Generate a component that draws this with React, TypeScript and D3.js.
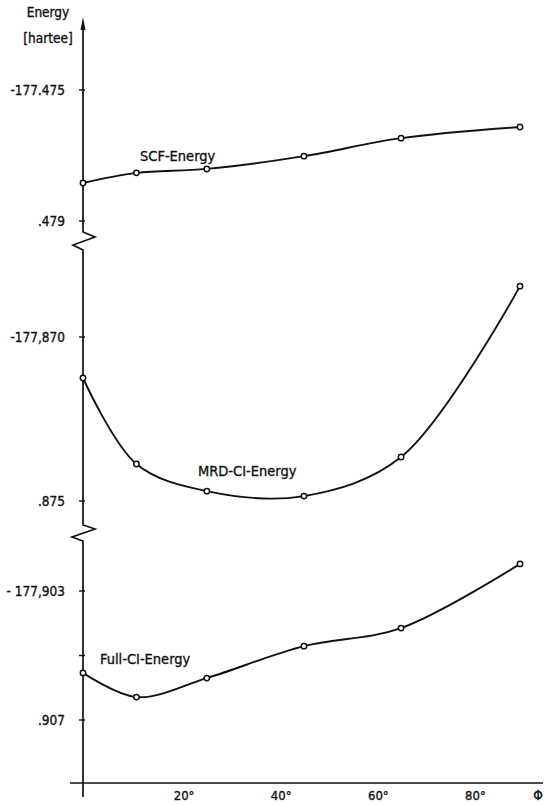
import React from 'react';
import * as d3 from 'd3';

// torsion angle phi (degrees)
const phi = [0, 11, 25.5, 45.5, 65.5, 90];

// energies (hartree)
const scfEnergy = [-177.47784, -177.47753, -177.47741, -177.47702, -177.47647, -177.47613];
const mrdEnergy = [-177.87125, -177.87387, -177.8747, -177.87485, -177.87366, -177.86845];
const fullEnergy = [-177.90554, -177.90629, -177.9057, -177.90471, -177.90415, -177.90216];

// y tick values and their printed labels, one pair per broken segment
const scfTicks = [-177.475, -177.479];
const scfTickLabels = ['-177.475', '.479'];
const mrdTicks = [-177.87, -177.875];
const mrdTickLabels = ['-177,870', '.875'];
const fullTicks = [-177.903, -177.905, -177.907];
const fullTickLabels = ['- 177,903', '', '.907'];

const xTicks = [20, 40, 60, 80];
const xTickLabels = ['20°', '40°', '60°', '80°'];

const font = '"DejaVu Sans Condensed", "Liberation Sans Narrow", sans-serif';
const ink = '#111';

const App = () => {
  const W = 545;
  const H = 805;
  const x0 = 83;
  const xAxisY = 783;

  const x = d3.scaleLinear().domain([0, 90]).range([x0, 520]);

  const ySCF = d3.scaleLinear().domain([-177.475, -177.479]).range([90, 221]);
  const yMRD = d3.scaleLinear().domain([-177.87, -177.875]).range([337, 501]);
  const yFull = d3.scaleLinear().domain([-177.903, -177.907]).range([591, 720]);

  const series = [
    { name: 'SCF-Energy', values: scfEnergy, y: ySCF, lx: 140, ly: 161 },
    { name: 'MRD-CI-Energy', values: mrdEnergy, y: yMRD, lx: 198, ly: 476 },
    { name: 'Full-CI-Energy', values: fullEnergy, y: yFull, lx: 100, ly: 664 },
  ];

  const segments = [
    { ticks: scfTicks, labels: scfTickLabels, y: ySCF },
    { ticks: mrdTicks, labels: mrdTickLabels, y: yMRD },
    { ticks: fullTicks, labels: fullTickLabels, y: yFull },
  ];

  // broken y axis with two zigzag breaks
  const axisPath = d3.path();
  axisPath.moveTo(x0, 26);
  axisPath.lineTo(x0, 232);
  axisPath.lineTo(x0 + 12, 237);
  axisPath.lineTo(x0 - 10, 245);
  axisPath.lineTo(x0, 250);
  axisPath.lineTo(x0, 525);
  axisPath.lineTo(x0 + 12, 529);
  axisPath.lineTo(x0 - 11, 537);
  axisPath.lineTo(x0, 541);
  axisPath.lineTo(x0, 797);

  const txt = { fontFamily: font, fill: ink, stroke: ink, strokeWidth: 0.35 };

  return (
    <svg width={W} height={H} style={{ position: 'absolute', left: 0, top: 0, background: '#fff' }}>
      {/* axes */}
      <path d={axisPath.toString()} fill="none" stroke={ink} strokeWidth={1.7} strokeLinejoin="miter" />
      <path d={`M${x0 - 2.5},30 L${x0},17 L${x0 + 2.5},30 Z`} fill={ink} />
      <line x1={70} x2={543} y1={xAxisY} y2={xAxisY} stroke={ink} strokeWidth={1.7} />

      {/* y ticks */}
      {segments.map((s, i) =>
        s.ticks.map((t, j) => (
          <g key={`${i}-${j}`}>
            <line x1={x0 - 4} x2={x0 + 2} y1={s.y(t)} y2={s.y(t)} stroke={ink} strokeWidth={1.4} />
            {s.labels[j] && (
              <text x={65} y={s.y(t) + 5} textAnchor="end" fontSize={13.5} {...txt}>
                {s.labels[j]}
              </text>
            )}
          </g>
        ))
      )}

      {/* axis titles */}
      <text x={48} y={17} textAnchor="middle" fontSize={13.5} {...txt}>Energy</text>
      <text x={48} y={43} textAnchor="middle" fontSize={13.5} {...txt}>[hartee]</text>

      {/* x tick labels */}
      {xTicks.map((t, i) => (
        <text key={t} x={x(t) + 4} y={800} textAnchor="middle" fontSize={13} {...txt}>
          {xTickLabels[i]}
        </text>
      ))}
      <text x={538} y={800} textAnchor="middle" fontSize={13.5} {...txt}>Φ</text>

      {/* curves */}
      {series.map((s) => {
        const pts: [number, number][] = phi.map((p, i) => [x(p), s.y(s.values[i])]);
        const line = d3.line().curve(d3.curveCatmullRom.alpha(0.5));
        return (
          <g key={s.name}>
            <path d={line(pts) || ''} fill="none" stroke={ink} strokeWidth={1.9} />
            {pts.map((p, i) => (
              <circle key={i} cx={p[0]} cy={p[1]} r={2.7} fill="#fff" stroke={ink} strokeWidth={1.5} />
            ))}
            <text x={s.lx} y={s.ly} fontSize={14.5} {...txt}>{s.name}</text>
          </g>
        );
      })}
    </svg>
  );
};

export default App;
